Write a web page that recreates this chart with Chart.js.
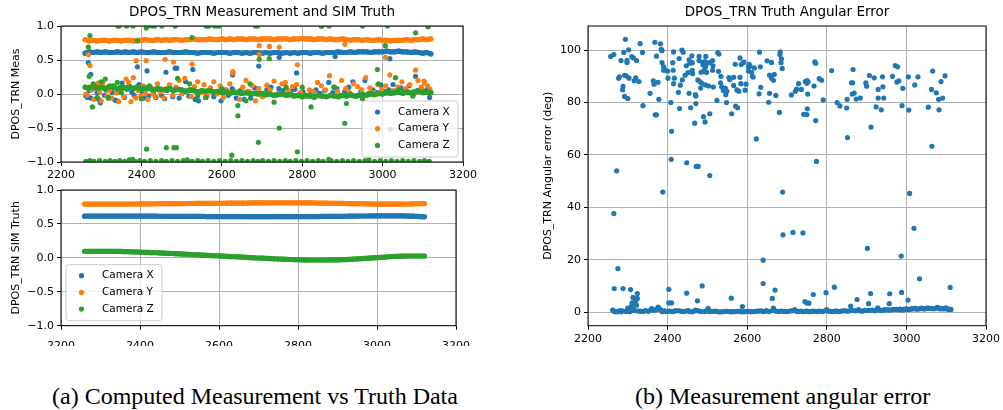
<!DOCTYPE html>
<html>
<head>
<meta charset="utf-8">
<script src="https://cdn.jsdelivr.net/npm/chart.js@4.4.1/dist/chart.umd.min.js"></script>
<style>
  body { margin: 0; background: #fff; width: 1003px; height: 410px; position: relative; overflow: hidden; }
  canvas { position: absolute; }
  .cap { position: absolute; font-family: "Liberation Serif", serif; font-size: 24px; white-space: nowrap; color: #000; }
</style>
</head>
<body>
<canvas id="meas" width="480" height="180" style="left:0;top:0"></canvas>
<canvas id="truth" width="480" height="166" style="left:0;top:180px"></canvas>
<canvas id="angle" width="473" height="344" style="left:530px;top:0"></canvas>
<div class="cap" style="left:52px;top:383px">(a) Computed Measurement vs Truth Data</div>
<div class="cap" style="left:635px;top:383px">(b) Measurement angular error</div>
<script>
// tick positions
const xTicks = [2200, 2400, 2600, 2800, 3000, 3200];
const unitTicks = [-1, -0.5, 0, 0.5, 1];
const errTicks = [0, 20, 40, 60, 80, 100];

// common time grid for the truth traces and the steady measurement bands
const gridTime = [
  2260, 2270, 2280, 2290, 2300, 2310, 2320, 2330, 2340, 2350,
  2360, 2370, 2380, 2390, 2400, 2410, 2420, 2430, 2440, 2450,
  2460, 2470, 2480, 2490, 2500, 2510, 2520, 2530, 2540, 2550,
  2560, 2570, 2580, 2590, 2600, 2610, 2620, 2630, 2640, 2650,
  2660, 2670, 2680, 2690, 2700, 2710, 2720, 2730, 2740, 2750,
  2760, 2770, 2780, 2790, 2800, 2810, 2820, 2830, 2840, 2850,
  2860, 2870, 2880, 2890, 2900, 2910, 2920, 2930, 2940, 2950,
  2960, 2970, 2980, 2990, 3000, 3010, 3020, 3030, 3040, 3050,
  3060, 3070, 3080, 3090, 3100, 3110, 3120
];

// SIM truth
const truthX = [
  0.614, 0.614, 0.615, 0.615, 0.615, 0.616, 0.616, 0.616, 0.616, 0.616,
  0.616, 0.616, 0.616, 0.616, 0.615, 0.615, 0.615, 0.614, 0.614, 0.613,
  0.613, 0.612, 0.612, 0.612, 0.611, 0.611, 0.611, 0.610, 0.610, 0.610,
  0.610, 0.609, 0.609, 0.609, 0.609, 0.608, 0.608, 0.608, 0.608, 0.608,
  0.607, 0.607, 0.607, 0.607, 0.607, 0.607, 0.607, 0.607, 0.607, 0.607,
  0.607, 0.607, 0.607, 0.607, 0.607, 0.608, 0.608, 0.608, 0.609, 0.609,
  0.610, 0.610, 0.611, 0.611, 0.612, 0.612, 0.613, 0.614, 0.615, 0.616,
  0.617, 0.617, 0.618, 0.618, 0.619, 0.619, 0.620, 0.620, 0.620, 0.620,
  0.619, 0.618, 0.616, 0.614, 0.611, 0.608, 0.605
];
const truthY = [
  0.793, 0.793, 0.792, 0.792, 0.792, 0.792, 0.792, 0.792, 0.792, 0.792,
  0.793, 0.793, 0.794, 0.794, 0.795, 0.795, 0.796, 0.796, 0.797, 0.797,
  0.798, 0.798, 0.799, 0.799, 0.800, 0.800, 0.801, 0.801, 0.802, 0.802,
  0.803, 0.803, 0.804, 0.804, 0.805, 0.805, 0.806, 0.806, 0.807, 0.807,
  0.808, 0.808, 0.809, 0.809, 0.810, 0.810, 0.810, 0.811, 0.811, 0.811,
  0.811, 0.811, 0.811, 0.811, 0.811, 0.810, 0.810, 0.809, 0.809, 0.808,
  0.807, 0.806, 0.805, 0.804, 0.803, 0.802, 0.801, 0.800, 0.799, 0.798,
  0.797, 0.796, 0.795, 0.794, 0.793, 0.792, 0.792, 0.791, 0.791, 0.791,
  0.792, 0.793, 0.794, 0.795, 0.797, 0.798, 0.800
];
const truthZ = [
  0.097, 0.097, 0.097, 0.097, 0.097, 0.097, 0.097, 0.096, 0.096, 0.095,
  0.093, 0.091, 0.089, 0.087, 0.085, 0.082, 0.080, 0.077, 0.075, 0.072,
  0.069, 0.066, 0.064, 0.061, 0.058, 0.055, 0.052, 0.049, 0.046, 0.043,
  0.040, 0.037, 0.034, 0.031, 0.028, 0.025, 0.022, 0.019, 0.016, 0.013,
  0.010, 0.007, 0.004, 0.001, -0.002, -0.005, -0.008, -0.011, -0.014, -0.017,
  -0.020, -0.022, -0.024, -0.026, -0.028, -0.030, -0.031, -0.032, -0.032, -0.032,
  -0.032, -0.032, -0.031, -0.030, -0.029, -0.027, -0.025, -0.022, -0.019, -0.016,
  -0.012, -0.008, -0.004, 0.000, 0.004, 0.008, 0.012, 0.016, 0.020, 0.023,
  0.025, 0.026, 0.027, 0.027, 0.027, 0.027, 0.027
];

// measured components, steady bands on the grid
const measXBand = [
  0.60, 0.62, 0.61, 0.62, 0.61, 0.62, 0.61, 0.61, 0.62, 0.61,
  0.62, 0.61, 0.62, 0.61, 0.62, 0.61, 0.61, 0.62, 0.61, 0.61,
  0.61, 0.62, 0.61, 0.61, 0.61, 0.62, 0.61, 0.61, 0.60, 0.61,
  0.61, 0.61, 0.60, 0.61, 0.61, 0.61, 0.60, 0.61, 0.61, 0.60,
  0.61, 0.60, 0.61, 0.61, 0.60, 0.61, 0.60, 0.61, 0.61, 0.60,
  0.61, 0.60, 0.61, 0.60, 0.61, 0.61, 0.60, 0.61, 0.61, 0.60,
  0.61, 0.61, 0.61, 0.62, 0.61, 0.61, 0.62, 0.61, 0.62, 0.62,
  0.62, 0.61, 0.62, 0.62, 0.62, 0.63, 0.62, 0.62, 0.63, 0.62,
  0.62, 0.61, 0.62, 0.61, 0.60, 0.61, 0.59
];
const measYBand = [
  0.80, 0.78, 0.79, 0.78, 0.79, 0.79, 0.78, 0.79, 0.79, 0.78,
  0.79, 0.79, 0.78, 0.79, 0.79, 0.80, 0.79, 0.79, 0.80, 0.79,
  0.80, 0.79, 0.80, 0.80, 0.79, 0.80, 0.80, 0.81, 0.80, 0.80,
  0.80, 0.81, 0.80, 0.80, 0.81, 0.80, 0.81, 0.80, 0.81, 0.81,
  0.80, 0.81, 0.81, 0.80, 0.81, 0.81, 0.81, 0.80, 0.81, 0.81,
  0.81, 0.80, 0.81, 0.81, 0.82, 0.81, 0.81, 0.80, 0.81, 0.81,
  0.80, 0.81, 0.80, 0.80, 0.81, 0.80, 0.79, 0.80, 0.80, 0.79,
  0.80, 0.79, 0.79, 0.80, 0.79, 0.79, 0.78, 0.79, 0.79, 0.79,
  0.80, 0.79, 0.80, 0.80, 0.81, 0.80, 0.81
];
const measZBand = [
  0.10, 0.09, 0.11, 0.09, 0.10, 0.08, 0.11, 0.10, 0.08, 0.10,
  0.09, 0.10, 0.08, 0.10, 0.07, 0.09, 0.08, 0.06, 0.08, 0.07,
  0.06, 0.08, 0.05, 0.07, 0.06, 0.04, 0.06, 0.05, 0.03, 0.05,
  0.04, 0.05, 0.03, 0.04, 0.02, 0.03, 0.01, 0.03, 0.02, 0.01,
  0.02, 0.00, 0.01, 0.00, 0.01, -0.01, 0.00, -0.02, -0.01, 0.00,
  -0.02, -0.01, -0.03, -0.02, -0.04, -0.02, -0.03, -0.04, -0.02, -0.03,
  -0.04, -0.02, -0.03, -0.04, -0.02, -0.03, -0.01, -0.03, -0.02, -0.01,
  -0.02, 0.00, -0.01, 0.01, 0.00, 0.02, 0.01, 0.02, 0.03, 0.01,
  0.03, 0.02, 0.03, 0.04, 0.02, 0.03, 0.02
];

// measured Camera X, off-band samples
const measXSpreadTime = [
  2262, 2266, 2270, 2274, 2280, 2285, 2290, 2294, 2298, 2303,
  2308, 2312, 2318, 2322, 2328, 2334, 2340, 2346, 2352, 2358,
  2364, 2370, 2376, 2382, 2388, 2394, 2400, 2406, 2412, 2418,
  2424, 2430, 2436, 2444, 2450, 2458, 2464, 2470, 2478, 2486,
  2494, 2502, 2510, 2518, 2526, 2534, 2542, 2550, 2560, 2570,
  2580, 2590, 2598, 2606, 2616, 2626, 2636, 2646, 2656, 2664,
  2672, 2682, 2690, 2700, 2712, 2722, 2732, 2742, 2752, 2762,
  2772, 2782, 2792, 2802, 2812, 2822, 2834, 2844, 2856, 2866,
  2876, 2886, 2896, 2906, 2916, 2926, 2936, 2946, 2956, 2966,
  2976, 2986, 2996, 3006, 3016, 3026, 3036, 3046, 3056, 3066,
  3076, 3086, 3096, 3104, 3110, 3117,
  2268, 2274, 2390, 2414, 2461, 2484, 2488, 2528, 2627, 2692,
  2743, 2786, 2882, 3018, 3082
];
const measXSpread = [
  -0.03, -0.05, 0.05, -0.06, 0.08, 0.12, 0.02, -0.08, -0.13, 0.10,
  -0.02, 0.06, -0.06, 0.12, 0.02, -0.09, -0.10, 0.08, 0.16, -0.05,
  0.07, 0.12, 0.03, -0.02, 0.10, 0.14, 0.04, -0.06, 0.07, -0.03,
  0.09, 0.01, -0.05, 0.06, -0.02, -0.07, 0.05, 0.11, -0.04, 0.08,
  -0.06, 0.02, 0.18, -0.03, 0.06, -0.08, -0.10, 0.04, -0.05, 0.07,
  -0.04, 0.02, -0.10, 0.06, -0.02, 0.08, -0.06, 0.05, -0.08, 0.03,
  -0.06, 0.09, 0.02, -0.03, 0.06, 0.10, -0.02, 0.08, 0.05, -0.01,
  0.04, 0.07, -0.01, 0.03, -0.03, 0.04, 0.06, 0.01, 0.05, 0.17,
  0.02, 0.08, -0.02, 0.04, 0.10, 0.18, -0.03, 0.04, 0.20, 0.01,
  0.06, 0.02, 0.13, 0.04, 0.06, 0.14, 0.03, 0.09, 0.05, 0.12,
  -0.02, 0.05, 0.08, 0.03, 0.06, -0.05,
  0.46, 0.29, 0.40, 0.34, 0.32, 0.38, 0.38, 0.36, 0.28, 0.41,
  0.54, 0.31, 0.55, 0.52, 0.26
];

// measured Camera Y, off-band samples
const measYSpreadTime = [
  2262, 2265, 2270, 2276, 2282, 2288, 2292, 2296, 2300, 2304,
  2309, 2314, 2320, 2326, 2332, 2338, 2344, 2350, 2356, 2362,
  2368, 2374, 2380, 2386, 2392, 2398, 2404, 2410, 2416, 2422,
  2428, 2434, 2440, 2448, 2456, 2462, 2470, 2478, 2486, 2494,
  2500, 2508, 2516, 2524, 2532, 2540, 2548, 2556, 2564, 2572,
  2580, 2588, 2596, 2604, 2612, 2620, 2628, 2636, 2644, 2652,
  2660, 2668, 2676, 2684, 2692, 2702, 2712, 2720, 2730, 2740,
  2750, 2758, 2766, 2776, 2786, 2796, 2806, 2818, 2828, 2838,
  2848, 2858, 2868, 2878, 2888, 2898, 2908, 2918, 2928, 2938,
  2948, 2958, 2968, 2978, 2988, 2998, 3008, 3018, 3028, 3038,
  3048, 3058, 3068, 3078, 3088, 3096, 3104, 3112, 3118,
  2268, 2272, 2387, 2412, 2459, 2480, 2526, 2627, 2693, 2693,
  2718, 2743, 2788, 2906, 3007, 3082, 3103
];
const measYSpread = [
  0.00, -0.02, 0.10, 0.06, -0.08, 0.13, 0.16, 0.03, -0.10, 0.17,
  0.09, -0.03, 0.05, -0.06, 0.10, 0.02, -0.11, 0.07, -0.04, 0.22,
  0.17, -0.11, 0.24, -0.06, 0.05, -0.03, 0.12, 0.01, -0.08, 0.09,
  0.00, -0.04, 0.15, 0.03, -0.06, 0.08, 0.14, -0.02, 0.10, 0.20,
  0.00, 0.23, 0.05, -0.04, 0.11, 0.18, 0.02, 0.14, -0.03, 0.09,
  0.18, 0.00, 0.12, -0.05, 0.06, 0.15, 0.31, 0.02, -0.08, 0.10,
  0.20, 0.04, 0.12, -0.10, 0.08, -0.04, 0.13, 0.06, 0.19, 0.01,
  0.15, 0.17, 0.05, 0.11, 0.14, 0.02, -0.02, 0.06, 0.03, 0.17,
  0.12, 0.06, 0.27, 0.10, 0.04, 0.20, 0.08, 0.02, 0.15, 0.11,
  0.06, 0.24, 0.09, 0.02, 0.14, 0.07, 0.12, 0.28, 0.05, 0.10,
  0.18, 0.08, 0.14, 0.04, 0.20, 0.10, 0.16, 0.12, 0.07,
  0.58, 0.42, 0.49, 0.49, 0.51, 0.47, 0.44, 0.33, 0.71, 0.58,
  0.70, 0.69, 0.43, 0.73, 0.54, 0.35, 0.19
];

// measured Camera Z: samples pinned at +1 and -1, plus strays
const measZTopTime = [
  2342, 2345, 2363, 2379, 2412, 2416, 2426, 2433, 2451, 2484,
  2561, 2565, 2568, 2582, 2588, 2593, 2684, 2689, 2847, 2849,
  2867, 2950, 3012, 3114
];
const measZTop = [
  1.00, 1.00, 1.00, 1.00, 0.97, 1.00, 1.00, 1.00, 1.00, 1.00,
  1.00, 1.00, 1.00, 1.00, 1.00, 1.00, 1.00, 1.00, 1.00, 1.00,
  1.00, 1.00, 1.00, 1.00
];
const measZBottomTime = [
  2262, 2272, 2282, 2296, 2310, 2322, 2334, 2346, 2358, 2370,
  2378, 2384, 2396, 2408, 2422, 2436, 2450, 2462, 2476, 2490,
  2504, 2514, 2526, 2540, 2552, 2566, 2580, 2594, 2608, 2622,
  2636, 2650, 2664, 2678, 2690, 2702, 2716, 2730, 2744, 2758,
  2770, 2784, 2798, 2812, 2826, 2840, 2852, 2866, 2872, 2886,
  2900, 2914, 2928, 2942, 2956, 2966, 2980, 2994, 3008, 3022,
  3036, 3050, 3064, 3078, 3092, 3104, 3116
];
const measZBottom = [
  -0.99, -0.98, -0.99, -0.98, -0.99, -0.98, -0.99, -0.98, -0.99, -0.97,
  -0.96, -0.99, -0.98, -0.99, -0.98, -0.99, -0.98, -0.99, -0.98, -0.99,
  -0.98, -0.97, -0.99, -0.98, -0.99, -0.98, -0.99, -0.98, -0.99, -0.98,
  -0.99, -0.98, -0.99, -0.98, -0.99, -0.98, -0.99, -0.98, -0.99, -0.98,
  -0.99, -0.98, -0.99, -0.98, -0.99, -0.98, -0.99, -0.96, -0.98, -0.99,
  -0.98, -0.99, -0.98, -0.99, -0.98, -0.97, -0.99, -0.98, -0.99, -0.98,
  -0.99, -0.98, -0.99, -0.98, -0.99, -0.98, -0.99
];
const measZSpreadTime = [
  2268, 2270, 2272, 2278, 2390, 2413, 2462, 2481, 2487, 2526,
  2625, 2640, 2640, 2691, 2693, 2718, 2743, 2788, 2822, 2906,
  2910, 2987, 3007, 3020, 3032, 3082, 3113,
  2280, 2290, 2300, 2310, 2318, 2330, 2340, 2350, 2400, 2420,
  2490, 2520, 2540, 2560, 2600, 2660, 2670, 2730, 2760, 2800,
  2830, 2880, 2950, 2990, 3040, 3075
];
const measZSpread = [
  0.69, 0.26, 0.86, -0.19, 0.78, -0.81, -0.79, -0.79, -0.79, 0.83,
  -0.90, -0.32, -0.17, -0.71, 0.51, 0.52, -0.50, -0.85, -0.19, -0.43,
  -0.14, 0.36, 0.71, -0.52, 0.24, 0.90, 0.99,
  0.15, -0.05, 0.18, 0.22, -0.05, 0.12, 0.17, 0.02, -0.07, 0.12,
  0.23, 0.15, -0.03, -0.05, 0.08, -0.10, 0.15, -0.12, 0.10, 0.10,
  -0.05, 0.10, -0.07, 0.15, 0.06, -0.03
];

// angular error between measurement and truth (deg)
const errHighTime = [
  2257, 2265, 2272, 2277, 2279, 2283, 2287, 2288, 2290, 2292,
  2292, 2294, 2298, 2298, 2300, 2302, 2296, 2303, 2310, 2314,
  2316, 2320, 2322, 2328, 2331, 2337, 2338, 2356, 2364, 2366,
  2368, 2369, 2372, 2372, 2376, 2378, 2382, 2384, 2386, 2386,
  2390, 2390, 2395, 2400, 2401, 2408, 2410, 2409, 2413, 2414,
  2415, 2415, 2417, 2427, 2430, 2429, 2436, 2439, 2432, 2437,
  2444, 2451, 2447, 2456, 2448, 2454, 2458, 2454, 2461, 2462,
  2462, 2463, 2468, 2470, 2471, 2471, 2472, 2477, 2479, 2479,
  2476, 2481, 2486, 2483, 2484, 2488, 2489, 2492, 2494, 2495,
  2498, 2497, 2493, 2505, 2490, 2494, 2495, 2503, 2506, 2506,
  2513, 2514, 2513, 2515, 2496, 2524, 2526, 2529, 2528, 2534,
  2533, 2536, 2540, 2545, 2546, 2549, 2548, 2554, 2556, 2561,
  2566, 2566, 2570, 2571, 2576, 2574, 2579, 2582, 2582, 2585,
  2584, 2590, 2592, 2595, 2597, 2603, 2603, 2605, 2607, 2611,
  2613, 2615, 2618, 2623, 2631, 2633, 2634, 2630, 2650, 2656,
  2656, 2661, 2661, 2666, 2668, 2654, 2672, 2681, 2683, 2682,
  2686, 2685, 2688, 2711, 2721, 2724, 2729, 2736, 2742, 2746,
  2750, 2753, 2750, 2751, 2750, 2752, 2768, 2770, 2772, 2772,
  2774, 2781, 2787, 2791, 2812, 2826, 2833, 2851, 2850, 2852,
  2862, 2865, 2866, 2864, 2869, 2874, 2884, 2898, 2900, 2907,
  2911, 2919, 2924, 2929, 2929, 2940, 2941, 2937, 2943, 2965,
  2972, 2978, 2976, 2981, 2989, 2991, 3005, 3006, 3029, 3021,
  3055, 3064, 3066, 3063, 3075, 3082, 3081, 3087, 3091, 3097
];
const errHighDeg = [
  97.6, 98.3, 53.9, 89.3, 89.8, 96.0, 84.9, 86.2, 99.1, 90.4,
  82.3, 104.1, 95.3, 96.1, 81.5, 100.1, 90.2, 89.3, 97.5, 97.0,
  88.3, 89.4, 96.0, 88.0, 102.5, 99.1, 78.8, 83.5, 88.3, 87.0,
  103.0, 75.3, 75.3, 97.7, 87.7, 81.2, 102.4, 100.3, 99.8, 95.2,
  93.6, 92.3, 92.3, 92.0, 89.3, 80.0, 69.0, 58.3, 95.2, 92.3,
  87.2, 99.3, 89.3, 83.9, 77.7, 96.8, 100.0, 99.2, 86.6, 88.6,
  90.4, 91.4, 94.0, 95.0, 57.0, 83.5, 78.0, 96.3, 97.8, 95.2,
  92.3, 91.0, 72.1, 83.0, 82.5, 79.6, 55.6, 55.6, 97.6, 96.0,
  88.6, 88.0, 87.3, 85.5, 91.5, 95.3, 94.3, 92.3, 95.6, 93.6,
  91.5, 94.8, 91.8, 95.2, 74.6, 72.6, 86.7, 86.3, 52.1, 75.7,
  96.0, 94.0, 92.3, 85.9, 97.6, 80.8, 99.0, 98.5, 91.9, 90.0,
  87.5, 86.0, 84.6, 85.4, 83.0, 84.3, 80.0, 89.5, 88.7, 75.7,
  89.6, 86.5, 94.6, 78.6, 78.0, 84.8, 84.3, 89.6, 97.0, 94.5,
  87.2, 95.2, 95.4, 84.7, 87.0, 92.0, 93.6, 94.6, 93.8, 91.5,
  90.0, 89.7, 93.2, 66.1, 99.2, 93.6, 85.8, 83.3, 95.9, 90.5,
  83.5, 95.3, 89.3, 88.5, 90.7, 80.1, 82.7, 76.2, 99.3, 98.3,
  96.7, 95.2, 93.0, 82.9, 84.3, 85.1, 87.2, 85.0, 75.5, 88.0,
  88.4, 88.0, 87.3, 77.6, 75.4, 83.2, 86.3, 95.5, 95.0, 73.1,
  57.5, 89.1, 88.5, 81.0, 92.2, 80.0, 78.7, 81.2, 77.9, 66.6,
  87.5, 87.5, 92.6, 83.2, 83.6, 81.3, 81.7, 87.5, 86.2, 90.3,
  70.6, 89.4, 78.3, 85.0, 81.7, 89.8, 86.0, 77.2, 81.7, 90.0,
  94.1, 93.6, 87.8, 88.3, 78.8, 85.4, 89.8, 77.1, 89.8, 86.7,
  78.2, 63.3, 92.0, 85.0, 83.7, 77.2, 81.2, 88.0, 81.7, 90.2
];
const errMidTime = [
  2265, 2275, 2266, 2288, 2307, 2313, 2311, 2311, 2324, 2324,
  2320, 2322, 2388, 2403, 2403, 2410, 2448, 2475, 2487, 2560,
  2588, 2640, 2640, 2663, 2670, 2689, 2690, 2715, 2740, 2745,
  2750, 2755, 2766, 2798, 2819, 2860, 2876, 2902, 2905, 2910,
  2958, 2957, 2987, 2988, 3004, 3008, 3019, 3033, 3110
];
const errMidDeg = [
  37.6, 16.6, 9.0, 9.0, 8.6, 5.6, 3.0, 3.5, 7.1, 5.2,
  4.3, 2.6, 45.8, 8.7, 3.5, 3.5, 7.2, 4.3, 10.0, 5.3,
  2.1, 19.8, 10.9, 5.2, 8.4, 45.8, 29.5, 30.4, 30.2, 4.0,
  3.5, 3.4, 6.7, 7.4, 9.5, 2.3, 4.8, 24.3, 3.2, 7.1,
  7.0, 3.2, 21.4, 7.5, 4.6, 45.3, 32.0, 12.7, 9.4
];
const errLowTime = [
  2262, 2266, 2270, 2274, 2278, 2284, 2296, 2300, 2304, 2308,
  2316, 2330, 2338, 2344, 2352, 2360, 2366, 2372, 2376, 2380,
  2386, 2392, 2400, 2412, 2420, 2430, 2440, 2452, 2462, 2470,
  2480, 2494, 2502, 2510, 2520, 2530, 2540, 2550, 2560, 2570,
  2580, 2590, 2600, 2610, 2620, 2630, 2640, 2648, 2656, 2666,
  2672, 2680, 2690, 2700, 2710, 2720, 2730, 2740, 2750, 2760,
  2770, 2780, 2790, 2800, 2810, 2820, 2830, 2840, 2850, 2860,
  2870, 2880, 2890, 2900, 2910, 2920, 2928, 2936, 2944, 2952,
  2960, 2968, 2976, 2984, 2992, 3000, 3008, 3014, 3022, 3030,
  3038, 3046, 3054, 3062, 3070, 3078, 3086, 3094, 3100, 3106,
  3112
];
const errLowDeg = [
  0.8, 0.3, 0.1, 0.2, 0.5, 0.1, 0.3, 1.5, 0.2, 2.0,
  0.6, 0.4, 0.2, 0.6, 0.3, 1.3, 0.7, 0.9, 1.9, 1.3,
  0.2, 0.5, 0.3, 0.2, 0.6, 0.5, 0.2, 0.6, 0.1, 0.8,
  0.4, 0.2, 1.4, 0.3, 0.4, 0.1, 0.2, 0.3, 0.1, 0.2,
  0.3, 0.1, 0.2, 0.1, 0.2, 0.4, 0.2, 0.6, 0.3, 1.5,
  0.4, 0.2, 0.3, 0.2, 0.5, 0.9, 0.3, 0.2, 0.4, 0.2,
  0.3, 0.4, 0.2, 0.9, 0.3, 0.4, 0.2, 0.5, 0.4, 0.6,
  0.5, 0.9, 0.4, 0.6, 0.7, 0.5, 1.6, 0.8, 0.7, 0.9,
  0.8, 1.0, 0.9, 1.1, 0.8, 1.2, 1.0, 1.3, 1.4, 1.2,
  1.5, 1.3, 1.6, 1.4, 1.3, 1.8, 1.4, 1.2, 1.6, 1.1,
  1.0
];
const errBaseTime = [
  2265, 2275, 2285, 2295, 2305, 2315, 2325, 2335, 2345, 2355,
  2365, 2375, 2385, 2395, 2405, 2415, 2425, 2435, 2445, 2455,
  2465, 2475, 2485, 2495, 2505, 2515, 2525, 2535, 2545, 2555,
  2565, 2575, 2585, 2595, 2605, 2615, 2625, 2635, 2645, 2655,
  2665, 2675, 2685, 2695, 2705, 2715, 2725, 2735, 2745, 2755,
  2765, 2775, 2785, 2795, 2805, 2815, 2825, 2835, 2845, 2855,
  2865, 2875, 2885, 2895, 2905, 2915, 2925, 2935, 2945, 2955,
  2965, 2975, 2985, 2995, 3005, 3015, 3025, 3035, 3045, 3055,
  3065, 3075, 3085, 3095, 3105
];
const errBaseDeg = [
  0.4, 0.2, 0.6, 0.3, 0.2, 0.9, 0.4, 0.3, 0.5, 0.6,
  0.8, 1.1, 0.6, 0.3, 0.4, 0.2, 0.5, 0.3, 0.4, 0.2,
  0.3, 0.5, 0.2, 0.4, 0.2, 0.3, 0.2, 0.1, 0.3, 0.2,
  0.2, 0.3, 0.1, 0.2, 0.3, 0.2, 0.4, 0.5, 0.3, 0.2,
  0.6, 0.3, 0.4, 0.2, 0.3, 0.5, 0.2, 0.4, 0.3, 0.2,
  0.4, 0.2, 0.3, 0.5, 0.3, 0.2, 0.4, 0.3, 0.5, 0.4,
  0.6, 0.5, 0.4, 0.7, 0.6, 0.8, 0.7, 0.6, 0.9, 0.8,
  0.9, 1.0, 0.8, 1.1, 1.0, 1.2, 1.1, 1.3, 1.2, 1.4,
  1.3, 1.5, 1.2, 1.4, 1.0
];

const BLUE = '#1f77b4', ORANGE = '#ff7f0e', GREEN = '#2ca02c';
const FONT = 'DejaVu Sans';
const tickFont = { family: FONT, size: 11 };
const DOT = 2.6;

const pts = (t, v) => t.map((x, i) => ({ x, y: v[i] }));
const minus = s => s.replace('-', '\u2212');

// scattered samples, one dot each
function series(label, color, data, order) {
  return {
    label, data, order,
    backgroundColor: color, borderColor: color,
    pointRadius: DOT, pointBorderWidth: 0, pointHoverRadius: 0,
    clip: 0
  };
}

// densely sampled runs: the dots merge into a solid band one dot wide
function band(label, color, data, order) {
  return Object.assign(series(label, color, data, order), {
    showLine: true, borderWidth: DOT * 2, borderCapStyle: 'round', borderJoinStyle: 'round'
  });
}

function xAxis(height, pad) {
  return {
    type: 'linear', min: 2200, max: 3200,
    afterBuildTicks: s => { s.ticks = xTicks.map(value => ({ value })); },
    afterFit: s => { s.height = height; },
    ticks: { font: tickFont, color: '#000', padding: pad, maxRotation: 0, autoSkip: false,
             callback: v => String(v) },
    grid: { color: '#b0b0b0', tickColor: '#000', tickLength: 4 },
    border: { display: false }
  };
}

function yAxis(opts) {
  return {
    type: 'linear', min: opts.min, max: opts.max,
    afterBuildTicks: s => { s.ticks = opts.ticks.map(value => ({ value })); },
    afterFit: s => { s.width = opts.width; },
    ticks: { font: tickFont, color: '#000', padding: 3, autoSkip: false, callback: opts.format },
    grid: { color: '#b0b0b0', tickColor: '#000', tickLength: 4 },
    border: { display: false },
    title: { display: true, text: opts.title, font: { family: FONT, size: 11 }, color: '#000',
             padding: { top: opts.titlePad, bottom: 0 } }
  };
}

// axes frame and a matplotlib-like legend inside the plot area
const axesBox = {
  id: 'axesBox',
  afterDatasetsDraw(chart, args, opts) {
    const { ctx, chartArea: a } = chart;
    ctx.save();
    ctx.strokeStyle = '#000';
    ctx.lineWidth = 1;
    ctx.strokeRect(a.left, a.top, a.right - a.left, a.bottom - a.top);
    const L = opts.legend;
    if (L) {
      const bx = L.corner === 'right' ? a.right - L.inset - L.width : a.left + L.inset;
      const by = a.bottom - L.inset - L.height;
      ctx.beginPath();
      ctx.roundRect(bx, by, L.width, L.height, 3);
      ctx.fillStyle = 'rgba(255,255,255,0.8)';
      ctx.fill();
      ctx.strokeStyle = '#cccccc';
      ctx.stroke();
      ctx.font = '10.5px "' + FONT + '"';
      ctx.textBaseline = 'middle';
      chart.data.datasets.filter(ds => ds.label).forEach((ds, i) => {
        const cy = by + L.firstRow + i * L.rowGap;
        ctx.fillStyle = ds.backgroundColor;
        ctx.beginPath();
        ctx.arc(bx + L.markX, cy, DOT, 0, Math.PI * 2);
        ctx.fill();
        ctx.fillStyle = '#000';
        ctx.fillText(ds.label, bx + L.textX, cy);
      });
    }
    ctx.restore();
  }
};

const legendBox = { width: 96, height: 56, inset: 5, firstRow: 11, rowGap: 16.7, markX: 15.5, textX: 36 };

function titleOpts(text) {
  return { display: true, text, fullSize: false, color: '#000',
           font: { family: FONT, size: 13.5, weight: 'normal' }, padding: { top: 4, bottom: 5 } };
}

const unitFormat = v => minus(v.toFixed(1));

new Chart(document.getElementById('meas'), {
  type: 'scatter',
  data: {
    datasets: [
      series('Camera X', BLUE, pts(measXSpreadTime, measXSpread), 4),
      series('Camera Y', ORANGE, pts(measYSpreadTime, measYSpread), 2),
      series('Camera Z', GREEN, pts(measZTopTime, measZTop)
        .concat(pts(measZBottomTime, measZBottom), pts(measZSpreadTime, measZSpread)), 0),
      band(null, BLUE, pts(gridTime, measXBand), 5),
      band(null, ORANGE, pts(gridTime, measYBand), 3),
      band(null, GREEN, pts(gridTime, measZBand), 1)
    ]
  },
  options: {
    responsive: false, animation: false,
    layout: { padding: { top: 0.8, right: 16, bottom: 0, left: 0 } },
    scales: {
      x: xAxis(18, 3),
      y: yAxis({ min: -1, max: 1, ticks: unitTicks, width: 61, format: unitFormat,
                 title: 'DPOS_TRN Meas', titlePad: 9.5 })
    },
    plugins: {
      title: titleOpts('DPOS_TRN Measurement and SIM Truth'),
      legend: { display: false }, tooltip: { enabled: false },
      axesBox: { legend: Object.assign({ corner: 'right' }, legendBox) }
    }
  },
  plugins: [axesBox]
});

new Chart(document.getElementById('truth'), {
  type: 'scatter',
  data: {
    datasets: [
      band('Camera X', BLUE, pts(gridTime, truthX), 2),
      band('Camera Y', ORANGE, pts(gridTime, truthY), 1),
      band('Camera Z', GREEN, pts(gridTime, truthZ), 0)
    ]
  },
  options: {
    responsive: false, animation: false,
    layout: { padding: { top: 10, right: 16, bottom: 0, left: 0 } },
    scales: {
      x: xAxis(20.3, 10),
      y: yAxis({ min: -1, max: 1, ticks: unitTicks, width: 61, format: unitFormat,
                 title: 'DPOS_TRN SIM Truth', titlePad: 9.5 })
    },
    plugins: {
      title: { display: false },
      legend: { display: false }, tooltip: { enabled: false },
      axesBox: { legend: Object.assign({ corner: 'left' }, legendBox) }
    }
  },
  plugins: [axesBox]
});

new Chart(document.getElementById('angle'), {
  type: 'scatter',
  data: {
    datasets: [
      series('angular error', BLUE,
        pts(errHighTime, errHighDeg).concat(pts(errMidTime, errMidDeg),
          pts(errLowTime, errLowDeg), pts(errBaseTime, errBaseDeg)), 0)
    ]
  },
  options: {
    responsive: false, animation: false,
    layout: { padding: { top: 0.8, right: 13, bottom: 0, left: 0 } },
    scales: {
      x: xAxis(18.3, 3),
      y: yAxis({ min: -5.2, max: 109.2, ticks: errTicks, width: 58, format: v => String(v),
                 title: 'DPOS_TRN Angular error (deg)', titlePad: 11.3 })
    },
    plugins: {
      title: titleOpts('DPOS_TRN Truth Angular Error'),
      legend: { display: false }, tooltip: { enabled: false },
      axesBox: {}
    }
  },
  plugins: [axesBox]
});
</script>
</body>
</html>
